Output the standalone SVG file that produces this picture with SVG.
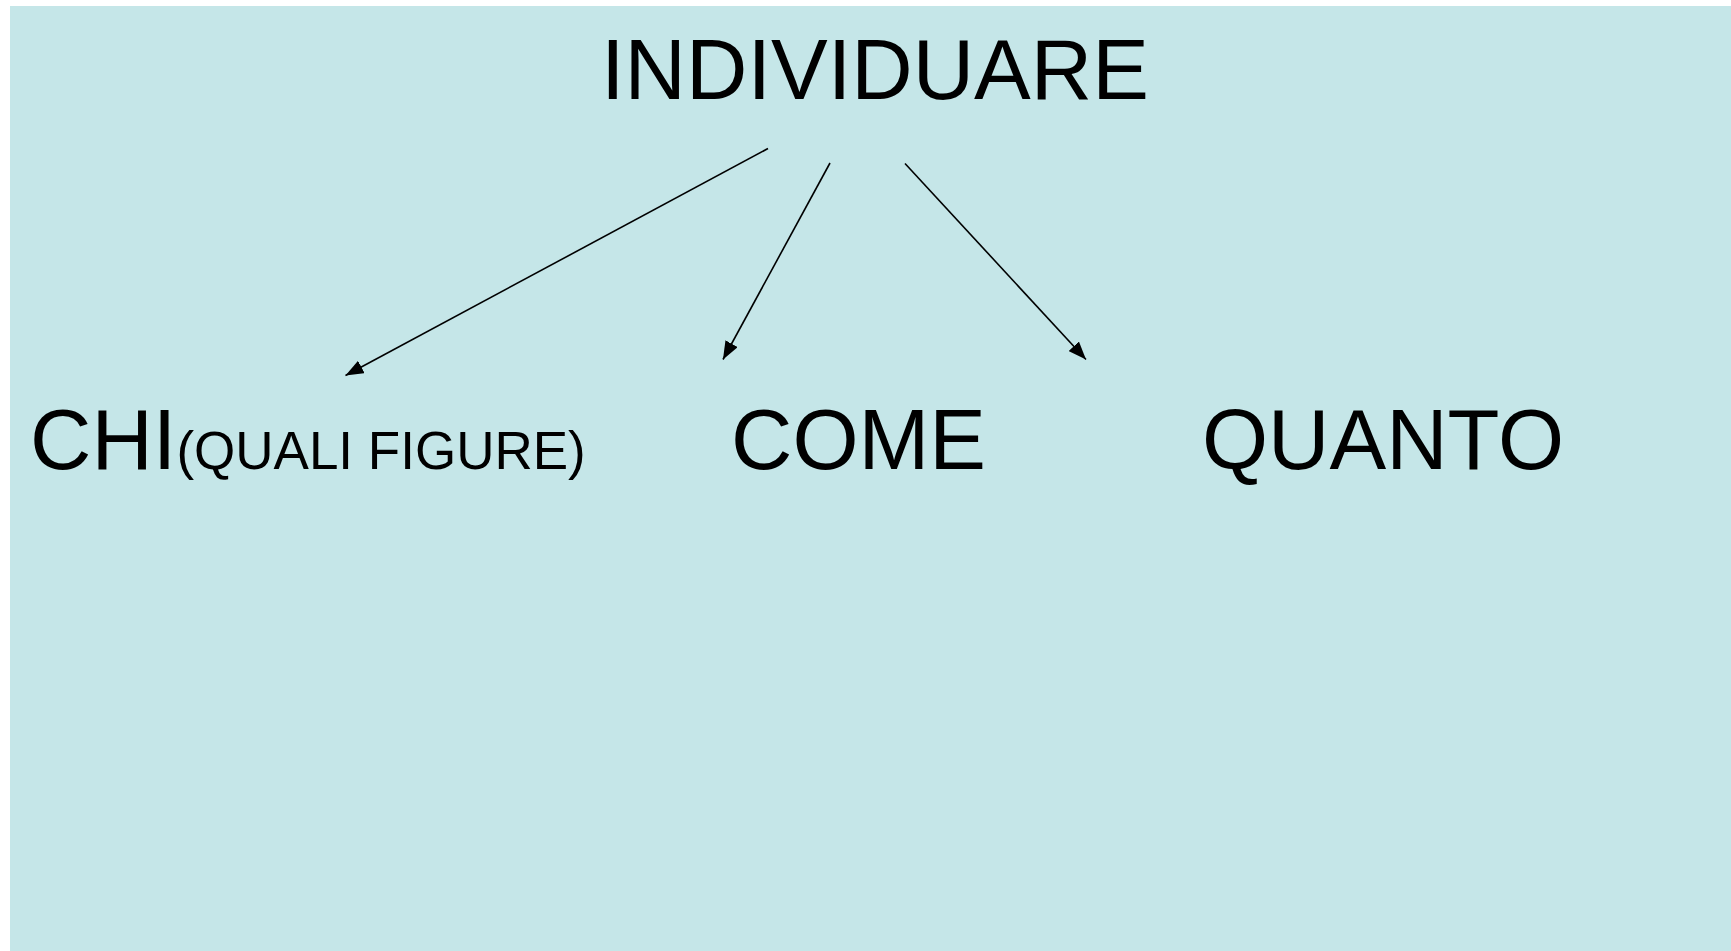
<svg xmlns="http://www.w3.org/2000/svg" width="1731" height="951" viewBox="0 0 1731 951">
  <style>
    .t { font-family: "Liberation Sans", Arial, sans-serif; fill: #000000; }
    .big { font-size: 85px; }
    .small { font-size: 53px; }
    .conn { stroke: #000000; stroke-width: 1.6; fill: none; marker-end: url(#arrow); }
  </style>
  <defs>
    <marker id="arrow" markerUnits="userSpaceOnUse" markerWidth="18" markerHeight="14" viewBox="0 0 18 14" refX="18" refY="7" orient="auto">
      <path d="M0,0 L18,7 L0,14 z" fill="#000000"/>
    </marker>
  </defs>
  <rect x="0" y="0" width="1731" height="951" fill="#FFFFFF"/>
  <rect id="background" x="10" y="6" width="1721" height="945" fill="#C5E6E8"/>
  <g id="node-individuare">
    <text class="t big" x="601" y="98.5">INDIVIDUARE</text>
  </g>
  <g id="node-chi">
    <text class="t big" x="30" y="469">CHI<tspan class="small">(QUALI FIGURE)</tspan></text>
  </g>
  <g id="node-come">
    <text class="t big" x="731" y="469">COME</text>
  </g>
  <g id="node-quanto">
    <text class="t big" x="1202" y="469">QUANTO</text>
  </g>
  <g id="connectors">
    <line class="conn" x1="768" y1="148.5" x2="345.5" y2="375.5"/>
    <line class="conn" x1="830" y1="163" x2="723" y2="359.5"/>
    <line class="conn" x1="905" y1="163.5" x2="1086" y2="359.5"/>
  </g>
</svg>
